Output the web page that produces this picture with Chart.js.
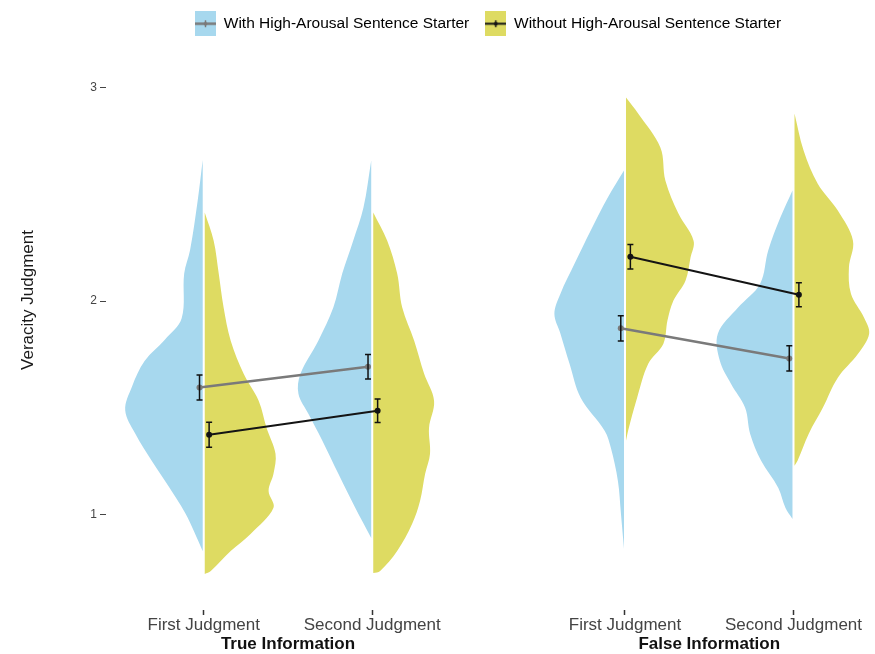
<!DOCTYPE html>
<html><head><meta charset="utf-8">
<script src="https://cdn.jsdelivr.net/npm/chart.js@4.4.1/dist/chart.umd.min.js"></script>
<style>html,body{margin:0;padding:0;background:#fff;} #wrap{width:875px;height:654px;position:relative;}</style>
</head><body><div id="wrap"><canvas id="c"></canvas></div>
<script>
// ---------- data ----------
const panels = ['True Information', 'False Information'];
const judgments = ['First Judgment', 'Second Judgment'];
const seriesNames = ['With High-Arousal Sentence Starter', 'Without High-Arousal Sentence Starter'];
const yTicks = [1, 2, 3];
const yAxisTitle = 'Veracity Judgment';

// means in order: True/First, True/Second, False/First, False/Second
const withMeans = [1.596, 1.693, 1.873, 1.732];
const withSE = [0.058, 0.057, 0.059, 0.059];
const withoutMeans = [1.375, 1.487, 2.208, 2.030];
const withoutSE = [0.058, 0.055, 0.057, 0.056];

// violin outlines: judgment levels (y) and half-widths (x units)
const trueFirstWithY = [2.66, 2.47, 2.24, 2.13, 1.92, 1.82, 1.72, 1.60, 1.49, 1.38, 1.25, 1.13, 1.01, 0.92, 0.83];
const trueFirstWithW = [0, 0.03, 0.075, 0.11, 0.125, 0.225, 0.345, 0.42, 0.46, 0.40, 0.30, 0.20, 0.105, 0.05, 0];
const trueFirstWithoutY = [2.415, 2.283, 2.129, 1.970, 1.815, 1.660, 1.534, 1.407, 1.286, 1.192, 1.112, 1.033, 0.911, 0.831, 0.738, 0.724];
const trueFirstWithoutW = [0, 0.053, 0.083, 0.112, 0.154, 0.231, 0.320, 0.367, 0.420, 0.408, 0.379, 0.408, 0.272, 0.154, 0.036, 0];
const trueSecondWithY = [2.658, 2.438, 2.283, 2.129, 1.970, 1.815, 1.660, 1.567, 1.473, 1.347, 1.192, 1.033, 0.892];
const trueSecondWithW = [0, 0.046, 0.107, 0.172, 0.225, 0.314, 0.420, 0.432, 0.373, 0.290, 0.195, 0.095, 0];
const trueSecondWithoutY = [2.415, 2.283, 2.129, 1.970, 1.815, 1.660, 1.534, 1.407, 1.286, 1.192, 1.066, 0.958, 0.831, 0.738, 0.728];
const trueSecondWithoutW = [0, 0.083, 0.142, 0.172, 0.243, 0.302, 0.361, 0.331, 0.337, 0.308, 0.278, 0.231, 0.142, 0.041, 0];
const falseFirstWithY = [2.611, 2.485, 2.330, 2.176, 2.035, 1.941, 1.848, 1.707, 1.548, 1.393, 1.314, 1.159, 1.005, 0.841];
const falseFirstWithW = [0, 0.096, 0.198, 0.293, 0.377, 0.413, 0.377, 0.323, 0.257, 0.114, 0.078, 0.036, 0.018, 0];
const falseFirstWithoutY = [2.953, 2.878, 2.719, 2.564, 2.410, 2.283, 2.204, 2.096, 2.002, 1.909, 1.801, 1.707, 1.548, 1.393, 1.347];
const falseFirstWithoutW = [0, 0.072, 0.204, 0.234, 0.311, 0.401, 0.383, 0.353, 0.281, 0.246, 0.222, 0.132, 0.066, 0.012, 0];
const falseSecondWithY = [2.518, 2.391, 2.237, 2.082, 1.970, 1.848, 1.721, 1.614, 1.501, 1.379, 1.253, 1.126, 1.033, 0.981];
const falseSecondWithW = [0, 0.072, 0.144, 0.192, 0.323, 0.443, 0.431, 0.365, 0.281, 0.251, 0.186, 0.084, 0.042, 0];
const falseSecondWithoutY = [2.878, 2.705, 2.550, 2.424, 2.283, 2.157, 2.035, 1.923, 1.848, 1.754, 1.642, 1.501, 1.379, 1.253, 1.230];
const falseSecondWithoutW = [0, 0.054, 0.138, 0.257, 0.347, 0.323, 0.335, 0.413, 0.443, 0.377, 0.257, 0.168, 0.084, 0.018, 0];

// ---------- styles / layout ----------
const BLUE = '#a7d8ee', YELLOW = '#dedb62';
const GRAY_LINE = '#7a7a7a', BLACK_LINE = '#141414';
const GAP = 0.006;         // white split line half-width (x units)
const PANEL_STEP = 2.5;
const DODGE = [-0.025, 0.032];
const xPos = (p, j) => 1 + j + p * PANEL_STEP;

const violins = [
  {y: trueFirstWithY, w: trueFirstWithW, p: 0, j: 0, side: -1},
  {y: trueFirstWithoutY, w: trueFirstWithoutW, p: 0, j: 0, side: 1},
  {y: trueSecondWithY, w: trueSecondWithW, p: 0, j: 1, side: -1},
  {y: trueSecondWithoutY, w: trueSecondWithoutW, p: 0, j: 1, side: 1},
  {y: falseFirstWithY, w: falseFirstWithW, p: 1, j: 0, side: -1},
  {y: falseFirstWithoutY, w: falseFirstWithoutW, p: 1, j: 0, side: 1},
  {y: falseSecondWithY, w: falseSecondWithW, p: 1, j: 1, side: -1},
  {y: falseSecondWithoutY, w: falseSecondWithoutW, p: 1, j: 1, side: 1},
];

function meanPoints(means, dodge) {
  const pts = [];
  panels.forEach((_, p) => {
    judgments.forEach((__, j) => pts.push({x: xPos(p, j) + dodge, y: means[p * 2 + j]}));
    if (p < panels.length - 1) pts.push({x: xPos(p, 1) + PANEL_STEP / 2, y: null});
  });
  return pts;
}

const datasets = [
  {label: seriesNames[0], data: meanPoints(withMeans, DODGE[0]), borderColor: GRAY_LINE, backgroundColor: GRAY_LINE,
   borderWidth: 2.5, pointRadius: 3, pointBackgroundColor: GRAY_LINE, pointBorderWidth: 0, spanGaps: false, fill: false, tension: 0},
  {label: seriesNames[1], data: meanPoints(withoutMeans, DODGE[1]), borderColor: BLACK_LINE, backgroundColor: BLACK_LINE,
   borderWidth: 2, pointRadius: 3, pointBackgroundColor: BLACK_LINE, pointBorderWidth: 0, spanGaps: false, fill: false, tension: 0},
];
violins.forEach(v => {
  const cx = xPos(v.p, v.j);
  datasets.push({
    label: 'violin',
    data: v.y.map((yy, i) => ({x: cx + v.side * (GAP + v.w[i]), y: yy})),
    fill: 'shape', backgroundColor: v.side < 0 ? BLUE : YELLOW,
    borderWidth: 0, borderColor: 'rgba(0,0,0,0)', pointRadius: 0, pointHoverRadius: 0, tension: 0.35
  });
});

// ---------- legend keys ----------
function makeKey(fill, lineColor, lw) {
  const c = document.createElement('canvas'); c.width = 21; c.height = 25;
  const g = c.getContext('2d');
  g.fillStyle = fill; g.fillRect(0, 0, 21, 25);
  g.strokeStyle = lineColor; g.lineWidth = lw;
  g.beginPath(); g.moveTo(0, 12.5); g.lineTo(21, 12.5); g.stroke();
  g.lineWidth = 1.4; g.beginPath(); g.moveTo(10.5, 9); g.lineTo(10.5, 16); g.stroke();
  g.fillStyle = lineColor; g.beginPath(); g.arc(10.5, 12.5, 2, 0, Math.PI * 2); g.fill();
  return c;
}
const keyWith = makeKey(BLUE, GRAY_LINE, 2.5);
const keyWithout = makeKey(YELLOW, BLACK_LINE, 2);

// ---------- plugins ----------
const errorBars = {
  id: 'errorBars',
  afterDatasetsDraw(chart) {
    const {ctx, scales: {x, y}} = chart;
    ctx.save();
    ctx.strokeStyle = '#111'; ctx.lineWidth = 1.5;
    [[withMeans, withSE, DODGE[0]], [withoutMeans, withoutSE, DODGE[1]]].forEach(([m, se, d]) => {
      panels.forEach((_, p) => judgments.forEach((__, j) => {
        const k = p * 2 + j;
        const px = x.getPixelForValue(xPos(p, j) + d);
        const y1 = y.getPixelForValue(m[k] + se[k]);
        const y2 = y.getPixelForValue(m[k] - se[k]);
        ctx.beginPath();
        ctx.moveTo(px, y1); ctx.lineTo(px, y2);
        ctx.moveTo(px - 3, y1); ctx.lineTo(px + 3, y1);
        ctx.moveTo(px - 3, y2); ctx.lineTo(px + 3, y2);
        ctx.stroke();
      }));
    });
    ctx.restore();
  }
};
const yTitle = {
  id: 'yTitle',
  afterDraw(chart) {
    const ctx = chart.ctx;
    ctx.save();
    ctx.translate(28, 300); ctx.rotate(-Math.PI / 2);
    ctx.font = '17px "Liberation Sans", Arial, sans-serif';
    ctx.fillStyle = '#1a1a1a'; ctx.textAlign = 'center'; ctx.textBaseline = 'middle';
    ctx.fillText(yAxisTitle, 0, 0);
    ctx.restore();
  }
};
const legendShift = {
  id: 'legendShift',
  afterLayout(chart) {
    const lg = chart.legend;
    if (!lg || !lg.lineWidths) return;
    const pad = lg.options.labels.padding;
    const cur = (lg.left + pad + lg.right - lg.lineWidths[0]) / 2;
    const d = 195 - cur;
    lg.left += d; lg.right += d;
  }
};

Chart.defaults.font.family = '"Liberation Sans", Arial, sans-serif';
Chart.defaults.animation = false;

new Chart(document.getElementById('c'), {
  type: 'line',
  data: {datasets},
  options: {
    responsive: true, maintainAspectRatio: false, animation: false,
    layout: {padding: 0},
    plugins: {
      tooltip: {enabled: false},
      legend: {
        position: 'top', align: 'center',
        labels: {
          usePointStyle: true, pointStyleWidth: 21, padding: 16,
          font: {size: 15.5}, color: '#1a1a1a',
          generateLabels: () => [
            {text: seriesNames[0], pointStyle: keyWith, fillStyle: BLUE, strokeStyle: GRAY_LINE, lineWidth: 0, datasetIndex: 0, hidden: false},
            {text: seriesNames[1], pointStyle: keyWithout, fillStyle: YELLOW, strokeStyle: BLACK_LINE, lineWidth: 0, datasetIndex: 1, hidden: false},
          ]
        }
      }
    },
    scales: {
      x: {
        type: 'linear', position: 'bottom', min: 0.42, max: 4.96,
        afterBuildTicks: s => { s.ticks = panels.flatMap((_, p) => judgments.map((__, j) => ({value: xPos(p, j)}))); },
        ticks: {callback: (v, i) => judgments[i % judgments.length], font: {size: 17}, color: '#444', padding: 0, maxRotation: 0, autoSkip: false},
        grid: {drawOnChartArea: false, drawTicks: true, tickLength: 5, tickColor: '#333', tickWidth: 1.5},
        border: {display: false},
        afterFit: s => { s.height = 24; }
      },
      x2: {
        type: 'linear', position: 'bottom', min: 0.42, max: 4.96,
        afterBuildTicks: s => { s.ticks = panels.map((_, p) => ({value: (xPos(p, 0) + xPos(p, 1)) / 2})); },
        ticks: {callback: (v, i) => panels[i], font: {size: 17, weight: 'bold'}, color: '#111', padding: 0, maxRotation: 0, autoSkip: false},
        grid: {display: false, drawTicks: false, tickLength: 0}, border: {display: false},
        afterFit: s => { s.height = 20; }
      },
      y: {
        type: 'linear', min: 0.555, max: 3.215,
        afterBuildTicks: s => { s.ticks = yTicks.map(v => ({value: v})); },
        ticks: {font: {size: 12}, color: '#444', padding: 3},
        grid: {drawOnChartArea: false, drawTicks: true, tickLength: 6, tickColor: '#444', tickWidth: 1},
        border: {display: false},
        afterFit: s => { s.width = 106; }
      }
    }
  },
  plugins: [errorBars, yTitle, legendShift]
});
</script></body></html>
